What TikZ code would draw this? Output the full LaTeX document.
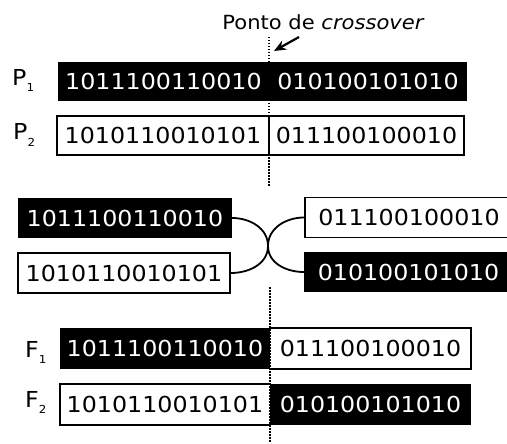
\documentclass[tikz,border=0pt]{standalone}
\usepackage{fontspec}
\setmainfont[FakeStretch=1.08]{DejaVu Sans}
\usetikzlibrary{arrows.meta}
\begin{document}
\begin{tikzpicture}[x=1pt,y=-1pt,
  dig/.style={font=\fontsize{22}{26}\selectfont, inner sep=0pt},
  blk/.style={dig, fill=black, text=white},
  wht/.style={dig, fill=white, text=black},
  box/.style={draw=black, line width=1.8pt},
  lbl/.style={font=\fontsize{22}{26}\selectfont, anchor=base west, inner sep=0pt},
  dots/.style={line width=2.2pt, dash pattern=on 1.5pt off 1.5pt},
  link/.style={line width=1.8pt}]
\useasboundingbox (0,0) rectangle (507,444);

% title and arrow
\node[font=\fontsize{19.5}{23}\selectfont, anchor=base, inner sep=0pt] (title) at (323.5,30) {Ponto de \textit{crossover}};
\coordinate (atail) at (299,37);
\coordinate (ahead) at (274,51);
\draw[line width=2.2pt, -{Stealth[length=12pt,width=10pt]}] (atail) -- (ahead);

% parents
\node[lbl] (p1lab) at (12,86) {P\raisebox{-6pt}{\fontsize{11}{11}\selectfont 1}};
\node[lbl] (p2lab) at (13,140) {P\raisebox{-6pt}{\fontsize{11}{11}\selectfont 2}};
\node[blk, minimum width=211pt, minimum height=39pt] (P1L) at (163.5,81.5) {1011100110010};
\node[blk, minimum width=198pt, minimum height=39pt] (P1R) at (368,81.5) {010100101010};
\node[wht, box, minimum width=212pt, minimum height=39pt] (P2L) at (163,135.5) {1010110010101};
\node[wht, box, minimum width=195pt, minimum height=39pt] (P2R) at (366.5,135.5) {011100100010};

% crossover pieces
\node[blk, minimum width=214pt, minimum height=40pt] (M1) at (125,218) {1011100110010};
\node[wht, box, minimum width=212pt, minimum height=40pt] (M2) at (124,273) {1010110010101};
\node[wht, box, minimum width=208pt, minimum height=40pt] (M3) at (409,217.5) {011100100010};
\node[blk, minimum width=209pt, minimum height=40pt] (M4) at (408.5,272) {010100101010};
\coordinate (kiss) at (268,246);
\draw[link] (M1.east) to[out=0,in=90] (kiss) to[out=270,in=180] (M4.west);
\draw[link] (M2.east) to[out=0,in=270] (kiss) to[out=90,in=180] (M3.west);

% children
\node[lbl] (f1lab) at (25,357) {F\raisebox{-6pt}{\fontsize{11}{11}\selectfont 1}};
\node[lbl] (f2lab) at (25,407) {F\raisebox{-6pt}{\fontsize{11}{11}\selectfont 2}};
\node[blk, minimum width=210pt, minimum height=41pt] (F1L) at (165,348.5) {1011100110010};
\node[wht, minimum width=201pt, minimum height=41pt] (F1R) at (370.5,348.5) {011100100010};
\node[wht, minimum width=210pt, minimum height=41pt] (F2L) at (165,404.5) {1010110010101};
\node[blk, minimum width=201pt, minimum height=41pt] (F2R) at (370.5,404.5) {010100101010};
\draw[box] (F1R.north west) -- (F1R.north east) -- (F1R.south east) -- (F1R.south west);
\draw[box] (F2L.north east) -- (F2L.north west) -- (F2L.south west) -- (F2L.south east);

% crossover point line
\coordinate (d1) at (269,37);
\coordinate (d2) at (269,186);
\coordinate (d3) at (270,287);
\coordinate (d4) at (270,442);
\draw[dots] (d1) -- (d2);
\draw[dots] (d3) -- (d4);
\end{tikzpicture}
\end{document}
